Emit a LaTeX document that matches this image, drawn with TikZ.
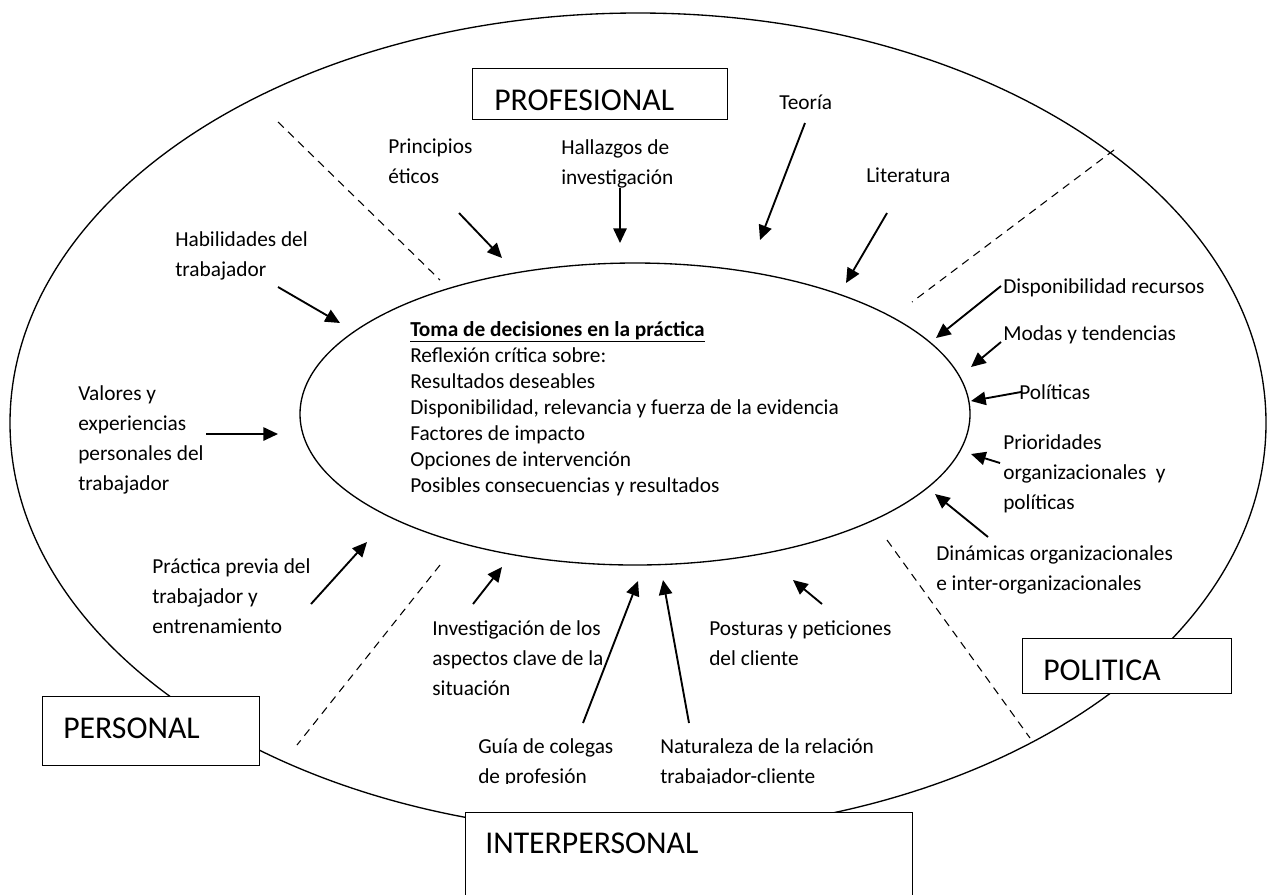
\documentclass[tikz,border=0pt]{standalone}
\usepackage{fontspec}
\setmainfont{Carlito}
\usetikzlibrary{shapes.geometric,arrows.meta}
\begin{document}
\begin{tikzpicture}[x=0.75pt,y=-0.75pt,
  arr/.style={line width=1.4pt,-{Triangle[length=11pt,width=10pt]}},
  dsh/.style={line width=0.8pt,dash pattern=on 6pt off 4.5pt},
  txt/.style={font=\fontsize{16}{22.5}\selectfont,align=left,inner sep=0pt,anchor=north west,execute at begin node=\strut},
  ctxt/.style={font=\fontsize{16}{19.5}\selectfont,align=left,inner sep=0pt,anchor=north west,execute at begin node=\strut},
  big/.style={font=\fontsize{23.8}{28}\selectfont,inner sep=0pt,anchor=west},
  lbox/.style={draw,fill=white,line width=1.1pt,inner sep=0pt,anchor=north west},
  ell/.style={draw,ellipse,line width=1pt,inner sep=0pt}]
\useasboundingbox (0,0) rectangle (1269,894);
% ellipses
\node (outer) [ell,minimum width=942pt,minimum height=615pt] at (638,423) {};
\node (inner) [ell,minimum width=502.5pt,minimum height=226.5pt] at (635,414) {};
% label boxes
\node (profbox) [lbox,minimum width=191.25pt,minimum height=38.25pt] at (472,68) {};
\node (persbox) [lbox,minimum width=162.75pt,minimum height=51.75pt] at (42,696) {};
\node (polbox) [lbox,minimum width=156.75pt,minimum height=41.25pt] at (1022,638) {};
\node (interbox) [lbox,minimum width=335.25pt,minimum height=75pt] at (465,812) {};
\node (proftxt) [big] at (494,100) {PROFESIONAL};
\node (perstxt) [big] at (63,728) {PERSONAL};
\node (poltxt) [big] at (1043,670) {POLITICA};
\node (intertxt) [big] at (485,843) {INTERPERSONAL};
% dashed dividers
\coordinate (d1a) at (278,122); \coordinate (d1b) at (440,280);
\coordinate (d2a) at (1114,150); \coordinate (d2b) at (912,302);
\coordinate (d3a) at (440,565); \coordinate (d3b) at (297,745);
\coordinate (d4a) at (887,540); \coordinate (d4b) at (1030,738);
\draw[dsh] (d1a) -- (d1b);
\draw[dsh] (d2a) -- (d2b);
\draw[dsh] (d3a) -- (d3b);
\draw[dsh] (d4a) -- (d4b);
% centre text
\node (centre) [ctxt] at (410,321) {\underline{\textbf{Toma de decisiones en la práctica}}\\
Reflexión crítica sobre:\\
Resultados deseables\\
Disponibilidad, relevancia y fuerza de la evidencia\\
Factores de impacto\\
Opciones de intervención\\
Posibles consecuencias y resultados};
% factor labels
\node (princ) [txt] at (388,139) {Principios\\éticos};
\node (hall) [txt] at (561,139) {Hallazgos de\\investigación};
\node (teo) [txt] at (779,88) {Teoría};
\node (lit) [txt] at (866,161) {Literatura};
\node (hab) [txt] at (175,231) {Habilidades del\\trabajador};
\node (val) [txt] at (78,385) {Valores y\\experiencias\\personales del\\trabajador};
\node (disp) [txt] at (1003,272) {Disponibilidad recursos};
\node (modas) [txt] at (1003,319) {Modas y tendencias};
\node (polit) [txt] at (1019,378) {Políticas};
\node (prior) [txt] at (1003,434) {Prioridades\\organizacionales \ y\\políticas};
\node (dina) [txt] at (936,545) {Dinámicas organizacionales\\e inter-organizacionales};
\node (prac) [txt] at (152,558) {Práctica previa del\\trabajador y\\entrenamiento};
\node (inv) [txt] at (432,620) {Investigación de los\\aspectos clave de la\\situación};
\node (post) [txt] at (709,620) {Posturas y peticiones\\del cliente};
\begin{scope}
\clip (470,700) rectangle (900,783);
\node (guia) [txt] at (478,738) {Guía de colegas\\de profesión};
\node (nat) [txt] at (660,738) {Naturaleza de la relación\\trabajador-cliente};
\end{scope}
% arrows
\coordinate (a1s) at (459,213); \coordinate (a1e) at (502,258);
\coordinate (a2s) at (620,188); \coordinate (a2e) at (620,243);
\coordinate (a3s) at (805,123); \coordinate (a3e) at (760,240);
\coordinate (a4s) at (887,213); \coordinate (a4e) at (846,283);
\coordinate (a5s) at (278,287); \coordinate (a5e) at (340,323);
\coordinate (a6s) at (206,434); \coordinate (a6e) at (278,434);
\coordinate (a7s) at (311,604); \coordinate (a7e) at (367,542);
\coordinate (a8s) at (473,604); \coordinate (a8e) at (502,567);
\coordinate (a9s) at (583,723); \coordinate (a9e) at (638,581);
\coordinate (a10s) at (689,723); \coordinate (a10e) at (663,580);
\coordinate (a11s) at (822,604); \coordinate (a11e) at (793,580);
\coordinate (a12s) at (988,537); \coordinate (a12e) at (935,494);
\coordinate (a13s) at (1000,463); \coordinate (a13e) at (971,454);
\coordinate (a14s) at (1021,392); \coordinate (a14e) at (971,401);
\coordinate (a15s) at (1001,342); \coordinate (a15e) at (971,367);
\coordinate (a16s) at (1001,286); \coordinate (a16e) at (936,338);
\foreach \i in {1,...,16} {\draw[arr] (a\i s) -- (a\i e);}
\end{tikzpicture}
\end{document}
